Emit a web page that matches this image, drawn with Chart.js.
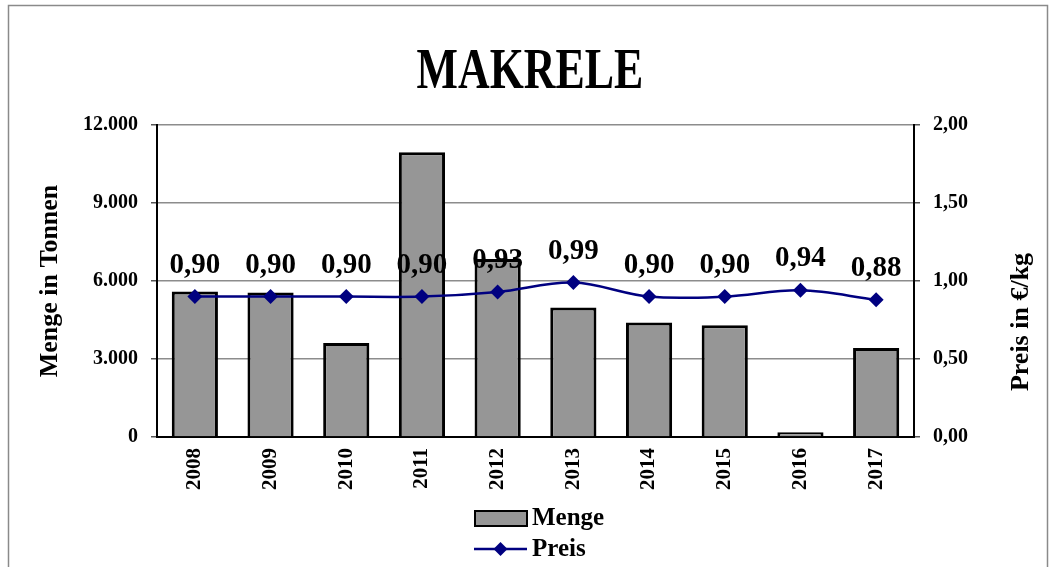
<!DOCTYPE html>
<html>
<head>
<meta charset="utf-8">
<script src="https://cdn.jsdelivr.net/npm/chart.js@4"></script>
<style>
  html, body { margin: 0; padding: 0; background: #fff; }
  #wrap { width: 1055px; height: 567px; }
</style>
</head>
<body>
<div id="wrap"><canvas id="myChart" width="1055" height="567"></canvas></div>
<script>
// data
const years = ['2008', '2009', '2010', '2011', '2012', '2013', '2014', '2015', '2016', '2017'];
const menge = [5600, 5560, 3620, 10950, 6850, 4980, 4400, 4300, 180, 3420];
const preis = [0.90, 0.90, 0.90, 0.90, 0.93, 0.99, 0.90, 0.90, 0.94, 0.88];

const serif = "'Liberation Serif', 'Times New Roman', serif";
const navy = '#000080';
const barGray = '#969696';

const fmtPrice = v => Number(v).toFixed(2).replace('.', ',');

// frame, condensed title, right axis title and legend
const decorations = {
  id: 'decorations',
  beforeDraw(chart) {
    const ctx = chart.ctx;
    ctx.save();
    ctx.fillStyle = '#fff';
    ctx.fillRect(0, 0, chart.width, chart.height);
    ctx.strokeStyle = '#8a8a8a';
    ctx.lineWidth = 1.5;
    ctx.strokeRect(8.5, 5.5, 1039, 620);
    ctx.restore();
  },
  afterDraw(chart) {
    const ctx = chart.ctx;
    ctx.save();
    ctx.fillStyle = '#000';
    ctx.textAlign = 'center';
    ctx.textBaseline = 'alphabetic';
    ctx.translate(530, 88);
    ctx.scale(0.77, 1);
    ctx.font = 'bold 57px ' + serif;
    ctx.fillText('MAKRELE', 0, 0);
    ctx.restore();

    ctx.save();
    ctx.fillStyle = '#000';
    ctx.font = 'bold 26px ' + serif;
    ctx.textAlign = 'center';
    ctx.textBaseline = 'middle';
    ctx.translate(1021, 322);
    ctx.rotate(-Math.PI / 2);
    ctx.fillText('Preis in €/kg', 0, 0);
    ctx.restore();

    // legend
    ctx.save();
    ctx.fillStyle = barGray;
    ctx.strokeStyle = '#000';
    ctx.lineWidth = 2;
    ctx.fillRect(475, 511, 52, 15);
    ctx.strokeRect(475, 511, 52, 15);
    ctx.strokeStyle = navy;
    ctx.lineWidth = 2.5;
    ctx.beginPath();
    ctx.moveTo(474, 549);
    ctx.lineTo(527, 549);
    ctx.stroke();
    ctx.fillStyle = navy;
    ctx.beginPath();
    ctx.moveTo(500.5, 542);
    ctx.lineTo(507.5, 549);
    ctx.lineTo(500.5, 556);
    ctx.lineTo(493.5, 549);
    ctx.closePath();
    ctx.fill();
    ctx.fillStyle = '#000';
    ctx.font = 'bold 25px ' + serif;
    ctx.textAlign = 'left';
    ctx.textBaseline = 'middle';
    ctx.fillText('Menge', 532, 519);
    ctx.fillText('Preis', 532, 550);
    ctx.restore();
  }
};

// price labels above the line points
const priceLabels = {
  id: 'priceLabels',
  afterDatasetsDraw(chart) {
    const ctx = chart.ctx;
    const meta = chart.getDatasetMeta(1);
    ctx.save();
    ctx.fillStyle = '#000';
    ctx.font = 'bold 29px ' + serif;
    ctx.textAlign = 'center';
    ctx.textBaseline = 'alphabetic';
    meta.data.forEach((pt, i) => {
      ctx.fillText(fmtPrice(preis[i]), pt.x, pt.y - 24);
    });
    ctx.restore();
  }
};

const ctx = document.getElementById('myChart').getContext('2d');
new Chart(ctx, {
  data: {
    labels: years,
    datasets: [
      {
        type: 'bar',
        label: 'Menge',
        data: menge,
        yAxisID: 'y',
        backgroundColor: barGray,
        borderColor: '#000',
        borderWidth: 3,
        barPercentage: 0.61,
        categoryPercentage: 1,
        order: 1
      },
      {
        type: 'line',
        label: 'Preis',
        data: preis,
        yAxisID: 'y2',
        borderColor: navy,
        backgroundColor: navy,
        borderWidth: 2.5,
        pointStyle: 'rectRot',
        pointRadius: 7.5,
        pointBorderWidth: 0,
        tension: 0.35,
        order: 0
      }
    ]
  },
  options: {
    responsive: false,
    animation: false,
    layout: { padding: { top: 125, bottom: 70, left: 0, right: 0 } },
    plugins: {
      legend: { display: false },
      tooltip: { enabled: false },
      title: { display: false }
    },
    scales: {
      x: {
        grid: { display: false, drawTicks: false },
        border: { display: true, color: '#000', width: 2 },
        ticks: {
          color: '#000',
          font: { family: serif, size: 21, weight: 'bold' },
          minRotation: 90,
          maxRotation: 90,
          padding: 11
        },
        afterFit(scale) { scale.height = 60; }
      },
      y: {
        position: 'left',
        min: 0,
        max: 12000,
        grid: { color: '#8c8c8c', lineWidth: 1.5, tickLength: 6, tickColor: '#555' },
        border: { display: true, color: '#000', width: 2 },
        ticks: {
          stepSize: 3000,
          color: '#000',
          padding: 13,
          font: { family: serif, size: 20, weight: 'bold' },
          callback: v => v.toLocaleString('de-DE')
        },
        title: {
          display: true,
          text: 'Menge in Tonnen',
          color: '#000',
          font: { family: serif, size: 26, weight: 'bold' },
          padding: { top: 35, bottom: 0 }
        },
        afterFit(scale) { scale.width = 157; }
      },
      y2: {
        position: 'right',
        min: 0,
        max: 2,
        grid: { drawOnChartArea: false, tickLength: 6, tickColor: '#555', lineWidth: 1.5 },
        border: { display: true, color: '#000', width: 2 },
        ticks: {
          stepSize: 0.5,
          color: '#000',
          padding: 13,
          font: { family: serif, size: 20, weight: 'bold' },
          callback: v => fmtPrice(v)
        },
        afterFit(scale) { scale.width = 141; }
      }
    }
  },
  plugins: [decorations, priceLabels]
});
</script>
</body>
</html>
